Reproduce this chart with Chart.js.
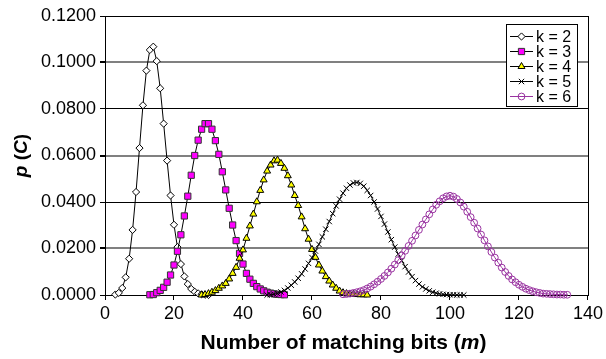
<!DOCTYPE html>
<html><head><meta charset="utf-8">
<script src="https://cdn.jsdelivr.net/npm/chart.js@4.4.1/dist/chart.umd.min.js"></script>
<style>html,body{margin:0;padding:0;background:#fff;}canvas{display:block;}</style>
</head><body>
<canvas id="c" width="606" height="359"></canvas>
<script>
// ---- data ----
const seriesNames = ['k = 2', 'k = 3', 'k = 4', 'k = 5', 'k = 6'];
const xTicks = [0, 20, 40, 60, 80, 100, 120, 140];
const yTicks = [0, 0.02, 0.04, 0.06, 0.08, 0.10, 0.12];

const mK2 = [3,4,5,6,7,8,9,10,11,12,13,14,15,16,17,18,19,20,21,22,23,24,25,26,27,28,29,30];
const pK2 = [0.0002,0.0009,0.0030,0.0076,0.0156,0.0280,0.0443,0.0632,0.0816,0.0965,0.1054,0.1068,0.1006,0.0889,0.0737,0.0578,0.0428,0.0302,0.0206,0.0133,0.0080,0.0047,0.0026,0.0014,0.0007,0.0003,0.0001,0.0000];

const mK3 = [13,14,15,16,17,18,19,20,21,22,23,24,25,26,27,28,29,30,31,32,33,34,35,36,37,38,39,40,41,42,43,44,45,46,47,48,49,50,51,52];
const pK3 = [0.0001,0.0002,0.0010,0.0020,0.0033,0.0055,0.0086,0.0129,0.0188,0.0259,0.0340,0.0425,0.0515,0.0600,0.0666,0.0713,0.0737,0.0737,0.0713,0.0664,0.0605,0.0530,0.0452,0.0373,0.0301,0.0234,0.0179,0.0133,0.0093,0.0068,0.0050,0.0036,0.0026,0.0018,0.0012,0.0008,0.0005,0.0003,0.0002,0.0001];

const mK4 = [28,29,30,31,32,33,34,35,36,37,38,39,40,41,42,43,44,45,46,47,48,49,50,51,52,53,54,55,56,57,58,59,60,61,62,63,64,65,66,67,68,69,70,71,72,73,74,75,76];
const pK4 = [0.0000,0.0002,0.0006,0.0012,0.0019,0.0029,0.0039,0.0050,0.0069,0.0093,0.0119,0.0158,0.0194,0.0244,0.0297,0.0348,0.0401,0.0450,0.0495,0.0533,0.0559,0.0577,0.0580,0.0566,0.0545,0.0513,0.0473,0.0428,0.0385,0.0336,0.0285,0.0240,0.0196,0.0162,0.0129,0.0103,0.0079,0.0060,0.0043,0.0029,0.0017,0.0010,0.0006,0.0004,0.0003,0.0002,0.0001,0.0001,0.0000];

const mK5 = [47,48,49,50,51,52,53,54,55,56,57,58,59,60,61,62,63,64,65,66,67,68,69,70,71,72,73,74,75,76,77,78,79,80,81,82,83,84,85,86,87,88,89,90,91,92,93,94,95,96,97,98,99,100,101,102,103,104];
const pK5 = [0.0000,0.0001,0.0003,0.0007,0.0013,0.0020,0.0030,0.0042,0.0056,0.0072,
             0.0091,0.0112,0.0136,0.0161,0.0189,0.0218,0.0250,0.0283,0.0316,0.0350,
             0.0383,0.0412,0.0438,0.0459,0.0473,0.0482,0.0484,0.0480,0.0468,0.0450,
             0.0428,0.0400,0.0370,0.0338,0.0305,0.0271,0.0238,0.0206,0.0176,0.0148,
             0.0122,0.0099,0.0079,0.0062,0.0047,0.0035,0.0026,0.0018,0.0012,0.0008,
             0.0005,0.0003,0.0002,0.0001,0.0001,0.0000,0.0000,0.0000];

const mK6 = [69,70,71,72,73,74,75,76,77,78,79,80,81,82,83,84,85,86,87,88,89,90,91,92,93,94,95,96,97,98,99,100,101,102,103,104,105,106,107,108,109,110,111,112,113,114,115,116,117,118,119,120,121,122,123,124,125,126,127,128,129,130,131,132,133,134];
const pK6 = [0.0003,0.0004,0.0006,0.0009,0.0012,0.0016,0.0021,0.0028,0.0036,0.0046,
             0.0057,0.0069,0.0082,0.0097,0.0113,0.0131,0.0150,0.0170,0.0190,0.0211,
             0.0233,0.0256,0.0280,0.0303,0.0325,0.0347,0.0368,0.0388,0.0403,0.0416,
             0.0424,0.0427,0.0423,0.0413,0.0398,0.0380,0.0358,0.0335,0.0311,0.0286,
             0.0260,0.0235,0.0209,0.0185,0.0161,0.0139,0.0118,0.0099,0.0082,0.0067,
             0.0055,0.0044,0.0035,0.0027,0.0021,0.0016,0.0012,0.0009,0.0006,0.0005,
             0.0004,0.0003,0.0002,0.0002,0.0001,0.0001];

// ---- styles ----
const FONT = "'Liberation Sans', Arial, Helvetica, sans-serif";
const styles = [
  {line:'#000', fill:'#fff', border:'#000', shape:'rectRot', r:3.6},
  {line:'#000', fill:'#ff00ff', border:'#333', shape:'rect', r:4.4},
  {line:'#000', fill:'#ffff00', border:'#000', shape:'triangle', r:4.0},
  {line:'#000', fill:'#000', border:'#000', shape:'crossRot', r:3.8},
  {line:'#9933a0', fill:'rgba(0,0,0,0)', border:'#9933a0', shape:'circle', r:3.4}
];
const xs = [mK2, mK3, mK4, mK5, mK6];
const ps = [pK2, pK3, pK4, pK5, pK6];

const datasets = seriesNames.map((name, i) => ({
  label: name,
  data: xs[i].map((m, j) => ({x: m, y: ps[i][j]})),
  borderColor: styles[i].line,
  borderWidth: 1,
  backgroundColor: styles[i].fill,
  pointStyle: styles[i].shape,
  pointRadius: styles[i].r,
  pointBackgroundColor: styles[i].fill,
  pointBorderColor: styles[i].border,
  pointBorderWidth: 1,
  tension: 0,
  fill: false,
  clip: false,
  order: 4 - i
}));

function drawMarker(ctx, st, x, y) {
  const r = st.r;
  ctx.save();
  ctx.fillStyle = st.fill; ctx.strokeStyle = st.border; ctx.lineWidth = 1;
  ctx.beginPath();
  if (st.shape === 'rectRot') {
    ctx.moveTo(x, y - r); ctx.lineTo(x + r, y); ctx.lineTo(x, y + r); ctx.lineTo(x - r, y); ctx.closePath();
    ctx.fill(); ctx.stroke();
  } else if (st.shape === 'rect') {
    const s = r * Math.SQRT1_2;
    ctx.rect(x - s, y - s, 2 * s, 2 * s); ctx.fill(); ctx.stroke();
  } else if (st.shape === 'triangle') {
    ctx.moveTo(x, y - r); ctx.lineTo(x + r * 0.866, y + r * 0.5); ctx.lineTo(x - r * 0.866, y + r * 0.5); ctx.closePath();
    ctx.fill(); ctx.stroke();
  } else if (st.shape === 'crossRot') {
    const s = r * Math.SQRT1_2;
    ctx.moveTo(x - s, y - s); ctx.lineTo(x + s, y + s); ctx.moveTo(x + s, y - s); ctx.lineTo(x - s, y + s); ctx.stroke();
  } else {
    ctx.arc(x, y, r, 0, Math.PI * 2); ctx.fill(); ctx.stroke();
  }
  ctx.restore();
}

const framePlugin = {
  id: 'frame',
  beforeDatasetsDraw(chart) {
    const a = chart.chartArea, ctx = chart.ctx;
    ctx.save(); ctx.strokeStyle = '#000'; ctx.lineWidth = 1;
    ctx.strokeRect(Math.round(a.left) + 0.5, Math.round(a.top) + 0.5, Math.round(a.right - a.left), Math.round(a.bottom - a.top));
    ctx.restore();
  }
};

const legendPlugin = {
  id: 'boxLegend',
  afterDraw(chart) {
    const ctx = chart.ctx;
    const x0 = 506, y0 = 24, w = 71, h = 82;
    ctx.save();
    ctx.fillStyle = '#fff'; ctx.fillRect(x0, y0, w, h);
    ctx.strokeStyle = '#000'; ctx.lineWidth = 1; ctx.strokeRect(x0 + 0.5, y0 + 0.5, w, h);
    seriesNames.forEach((name, i) => {
      const cy = y0 + 12 + i * 15;
      ctx.strokeStyle = styles[i].line; ctx.lineWidth = 1;
      ctx.beginPath(); ctx.moveTo(x0 + 4, cy + 0.5); ctx.lineTo(x0 + 27, cy + 0.5); ctx.stroke();
      drawMarker(ctx, styles[i], x0 + 15.5, cy + 0.5);
      ctx.fillStyle = '#000'; ctx.font = '16px ' + FONT; ctx.textBaseline = 'middle'; ctx.textAlign = 'left';
      ctx.fillText(name, x0 + 30, cy + 1.5);
    });
    ctx.restore();
  }
};

function drawRich(ctx, parts, size) {
  let total = 0;
  parts.forEach(p => { ctx.font = (p[1] ? 'italic ' : '') + 'bold ' + size + 'px ' + FONT; total += ctx.measureText(p[0]).width; });
  let x = -total / 2;
  parts.forEach(p => { ctx.font = (p[1] ? 'italic ' : '') + 'bold ' + size + 'px ' + FONT; ctx.fillText(p[0], x, 0); x += ctx.measureText(p[0]).width; });
}

const titlesPlugin = {
  id: 'axisTitles',
  afterDraw(chart) {
    const a = chart.chartArea, ctx = chart.ctx;
    ctx.save();
    ctx.fillStyle = '#000'; ctx.textBaseline = 'alphabetic'; ctx.textAlign = 'left';
    ctx.save(); ctx.translate((a.left + a.right) / 2 - 3, 348.5);
    drawRich(ctx, [['Number of matching bits (', false], ['m', true], [')', false]], 21);
    ctx.restore();
    ctx.save(); ctx.translate(27, (a.top + a.bottom) / 2); ctx.rotate(-Math.PI / 2);
    drawRich(ctx, [['p', true], [' (', false], ['C', true], [')', false]], 19);
    ctx.restore();
    ctx.restore();
  }
};

new Chart(document.getElementById('c'), {
  type: 'line',
  data: {datasets},
  options: {
    responsive: false, animation: false, devicePixelRatio: 1,
    layout: {padding: {left: 0, right: 16, top: 16, bottom: 0}},
    plugins: {legend: {display: false}, tooltip: {enabled: false}},
    scales: {
      x: {
        type: 'linear', min: xTicks[0], max: xTicks[xTicks.length - 1],
        afterBuildTicks(s) { s.ticks = xTicks.map(v => ({value: v})); },
        ticks: {color: '#000', font: {family: FONT, size: 18}, padding: 3, maxRotation: 0, autoSkip: false},
        grid: {drawOnChartArea: false, drawTicks: true, tickLength: 5, color: '#000'},
        border: {color: '#000', width: 1},
        afterFit(s) { s.height = 64; }
      },
      y: {
        type: 'linear', min: yTicks[0], max: yTicks[yTicks.length - 1],
        afterBuildTicks(s) { s.ticks = yTicks.map(v => ({value: v})); },
        ticks: {color: '#000', font: {family: FONT, size: 18}, padding: 4, callback: v => Number(v).toFixed(4)},
        grid: {
          color: c => (c.index % 2 === 1 ? '#808080' : '#000'),
          lineWidth: c => (c.index % 2 === 1 ? 2 : 1),
          tickColor: '#000', tickLength: 5
        },
        border: {color: '#000', width: 1},
        afterFit(s) { s.width = 105; }
      }
    }
  },
  plugins: [framePlugin, legendPlugin, titlesPlugin]
});
</script>
</body></html>
